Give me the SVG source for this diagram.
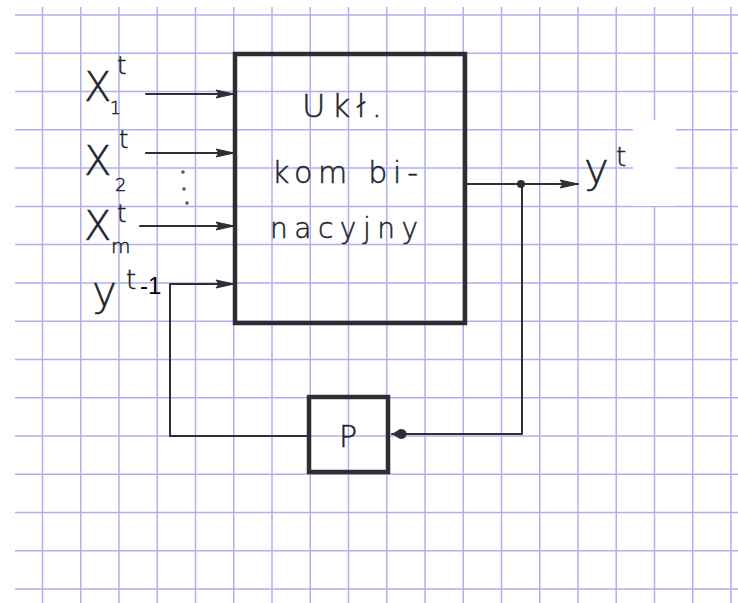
<svg xmlns="http://www.w3.org/2000/svg" width="738" height="603" viewBox="0 0 738 603">
<style>
.grid line{stroke:#b0b0f0;stroke-width:1.5}
.ink{fill:none;stroke:#2d3033;stroke-linecap:round;stroke-linejoin:round}
.box{fill:none;stroke:#2b2f33;stroke-width:4.5}
.hw{font-family:"DejaVu Sans",sans-serif;font-weight:200;fill:#22262a;stroke:#22262a;stroke-width:0.5}
.typed{font-family:"Liberation Sans",Arial,sans-serif;fill:#000}
</style>
<defs>
<marker id="arr" viewBox="0 0 20 10" refX="19" refY="5" markerWidth="20" markerHeight="10" markerUnits="userSpaceOnUse" orient="auto">
<path d="M1,1 L19,5 L1,9 L4,5 Z" fill="#2d3033" stroke="#2d3033" stroke-width="1"/>
</marker>
<marker id="blob" viewBox="0 0 16 12" refX="15" refY="6" markerWidth="16" markerHeight="12" markerUnits="userSpaceOnUse" orient="auto">
<path d="M15,6 L7,1 Q0.5,1 0.5,6 Q0.5,11 7,11 Z" fill="#2d3033"/>
</marker>
</defs>
<rect width="738" height="603" fill="#fff"/>
<g class="grid">
<line x1="15" y1="15" x2="738" y2="15"/>
<line x1="15" y1="53.3" x2="738" y2="53.3"/>
<line x1="15" y1="91.5" x2="738" y2="91.5"/>
<line x1="15" y1="129.8" x2="738" y2="129.8"/>
<line x1="15" y1="168" x2="738" y2="168"/>
<line x1="15" y1="206.4" x2="738" y2="206.4"/>
<line x1="15" y1="244.6" x2="738" y2="244.6"/>
<line x1="15" y1="282.9" x2="738" y2="282.9"/>
<line x1="15" y1="321.2" x2="738" y2="321.2"/>
<line x1="15" y1="359.4" x2="738" y2="359.4"/>
<line x1="15" y1="397.7" x2="738" y2="397.7"/>
<line x1="15" y1="436" x2="738" y2="436"/>
<line x1="15" y1="474.2" x2="738" y2="474.2"/>
<line x1="15" y1="512.5" x2="738" y2="512.5"/>
<line x1="15" y1="550.8" x2="738" y2="550.8"/>
<line x1="15" y1="589" x2="738" y2="589"/>
<line x1="42.5" y1="7" x2="42.5" y2="603"/>
<line x1="80.75" y1="7" x2="80.75" y2="603"/>
<line x1="119" y1="7" x2="119" y2="603"/>
<line x1="157.25" y1="7" x2="157.25" y2="603"/>
<line x1="195.5" y1="7" x2="195.5" y2="603"/>
<line x1="233.75" y1="7" x2="233.75" y2="603"/>
<line x1="272" y1="7" x2="272" y2="603"/>
<line x1="310.25" y1="7" x2="310.25" y2="603"/>
<line x1="348.5" y1="7" x2="348.5" y2="603"/>
<line x1="386.75" y1="7" x2="386.75" y2="603"/>
<line x1="425" y1="7" x2="425" y2="603"/>
<line x1="463.25" y1="7" x2="463.25" y2="603"/>
<line x1="501.5" y1="7" x2="501.5" y2="603"/>
<line x1="539.75" y1="7" x2="539.75" y2="603"/>
<line x1="578" y1="7" x2="578" y2="603"/>
<line x1="616.25" y1="7" x2="616.25" y2="603"/>
<line x1="654.5" y1="7" x2="654.5" y2="603"/>
<line x1="692.75" y1="7" x2="692.75" y2="603"/>
<line x1="731" y1="7" x2="731" y2="603"/>
</g>
<g id="connectors" class="ink">
<line x1="146" y1="94" x2="234" y2="94" stroke-width="2.2" marker-end="url(#arr)"/>
<line x1="146" y1="153" x2="234" y2="153" stroke-width="2.2" marker-end="url(#arr)"/>
<line x1="140" y1="226" x2="234" y2="226" stroke-width="2.2" marker-end="url(#arr)"/>
<polyline points="170,436 170,284 234,284" stroke-width="2" marker-end="url(#arr)"/>
<line x1="170" y1="436" x2="309" y2="436" stroke-width="2"/>
<line x1="466" y1="184" x2="578" y2="184" stroke-width="2.2" marker-end="url(#arr)"/>
<polyline points="522,184 522,434 392,434" stroke-width="2" marker-end="url(#blob)"/>
<circle cx="521" cy="184" r="4" fill="#2d3033" stroke="none"/>
</g>
<g id="comb">
<rect class="box" x="235" y="54" width="230" height="269"/>
<text class="hw" x="302" y="117" font-size="32" textLength="80" lengthAdjust="spacing">Ukł.</text>
<text class="hw" x="272" y="183" font-size="30" textLength="146" lengthAdjust="spacing">kom bi-</text>
<text class="hw" x="270" y="238" font-size="28" textLength="148" lengthAdjust="spacing">nacyjny</text>
</g>
<g id="delay">
<rect class="box" x="309" y="397" width="79" height="75"/>
<text class="hw" x="348" y="447" font-size="30" text-anchor="middle">P</text>
</g>
<g id="labels">
<text class="hw" x="84" y="101" font-size="40">X</text>
<text class="hw" x="117" y="74" font-size="24">t</text>
<text class="hw" x="110" y="114" font-size="17">1</text>
<text class="hw" x="84" y="175" font-size="40">X</text>
<text class="hw" x="119" y="148" font-size="24">t</text>
<text class="hw" x="115" y="191" font-size="18">2</text>
<text class="hw" x="84" y="240" font-size="40">X</text>
<text class="hw" x="117" y="222" font-size="24">t</text>
<text class="hw" x="111" y="253" font-size="20">m</text>
<circle cx="183" cy="172" r="1.8" fill="#555"/>
<circle cx="184" cy="189" r="1.8" fill="#555"/>
<circle cx="187" cy="203" r="1.8" fill="#555"/>
<text class="hw" x="92" y="306" font-size="42">y</text>
<text class="hw" x="126" y="289" font-size="26">t</text>
<text class="typed" x="140" y="294" font-size="24">-1</text>
<text class="hw" x="584" y="183" font-size="42">y</text>
<text class="hw" x="616" y="166" font-size="26">t</text>
<rect x="633" y="120" width="43" height="86" fill="#fff"/>
</g>
</svg>
